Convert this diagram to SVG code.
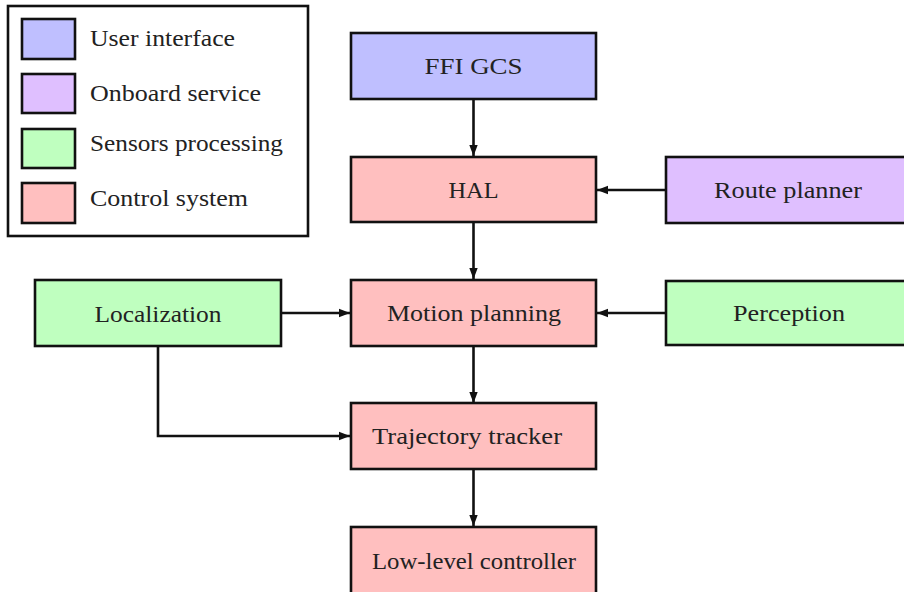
<svg xmlns="http://www.w3.org/2000/svg" width="904" height="592" viewBox="0 0 904 592">
<style>
.box{stroke:#111;stroke-width:2.6}
.ui{fill:#bfbfff}.ob{fill:#dfbfff}.sp{fill:#bfffbf}.cs{fill:#ffbfbf}
text{font-family:"Liberation Serif","Times New Roman",serif;font-size:24px;fill:#222}
.c{text-anchor:middle}
.conn{fill:none;stroke:#111;stroke-width:2.6}
</style>
<defs>
<marker id="ah" markerUnits="userSpaceOnUse" markerWidth="12" markerHeight="10" refX="11" refY="5" orient="auto">
<path d="M0,0.8 L11,5 L0,9.2 Z" fill="#111"/>
</marker>
</defs>
<rect width="904" height="592" fill="#fff"/>
<g id="legend">
<rect x="8" y="6" width="300" height="230" fill="#fff" stroke="#111" stroke-width="2.6"/>
<rect class="box ui" x="22" y="19" width="53" height="40"/>
<rect class="box ob" x="22" y="74" width="53" height="39"/>
<rect class="box sp" x="22" y="129" width="53" height="39"/>
<rect class="box cs" x="22" y="183" width="53" height="40"/>
<text x="90" y="46" textLength="145" lengthAdjust="spacingAndGlyphs">User interface</text>
<text x="90" y="101" textLength="171" lengthAdjust="spacingAndGlyphs">Onboard service</text>
<text x="90" y="151" textLength="193" lengthAdjust="spacingAndGlyphs">Sensors processing</text>
<text x="90" y="206" textLength="158" lengthAdjust="spacingAndGlyphs">Control system</text>
</g>
<g id="connectors">
<line class="conn" x1="473.5" y1="99" x2="473.5" y2="156" marker-end="url(#ah)"/>
<line class="conn" x1="666" y1="190" x2="597" y2="190" marker-end="url(#ah)"/>
<line class="conn" x1="473.5" y1="222" x2="473.5" y2="279" marker-end="url(#ah)"/>
<line class="conn" x1="281" y1="313" x2="350" y2="313" marker-end="url(#ah)"/>
<line class="conn" x1="666" y1="313" x2="597" y2="313" marker-end="url(#ah)"/>
<line class="conn" x1="473.5" y1="346" x2="473.5" y2="403" marker-end="url(#ah)"/>
<polyline class="conn" points="158,346 158,436 350,436" marker-end="url(#ah)"/>
<line class="conn" x1="473.5" y1="469" x2="473.5" y2="526" marker-end="url(#ah)"/>
</g>
<g id="ffi-gcs">
<rect class="box ui" x="351" y="33" width="245" height="66"/>
<text class="c" x="473.5" y="74" textLength="98" lengthAdjust="spacingAndGlyphs">FFI GCS</text>
</g>
<g id="hal">
<rect class="box cs" x="351" y="157" width="245" height="65"/>
<text class="c" x="473.5" y="197.5" textLength="50" lengthAdjust="spacingAndGlyphs">HAL</text>
</g>
<g id="route-planner">
<rect class="box ob" x="666" y="157" width="260" height="66"/>
<text class="c" x="788" y="197.5" textLength="148" lengthAdjust="spacingAndGlyphs">Route planner</text>
</g>
<g id="motion-planning">
<rect class="box cs" x="351" y="280" width="245" height="66"/>
<text class="c" x="474" y="320.5" textLength="174" lengthAdjust="spacingAndGlyphs">Motion planning</text>
</g>
<g id="localization">
<rect class="box sp" x="35" y="280" width="246" height="66"/>
<text class="c" x="158" y="321.5" textLength="127" lengthAdjust="spacingAndGlyphs">Localization</text>
</g>
<g id="perception">
<rect class="box sp" x="666" y="281" width="260" height="64"/>
<text class="c" x="789" y="320.5" textLength="112" lengthAdjust="spacingAndGlyphs">Perception</text>
</g>
<g id="trajectory-tracker">
<rect class="box cs" x="351" y="403" width="245" height="66"/>
<text class="c" x="467" y="443.5" textLength="190" lengthAdjust="spacingAndGlyphs">Trajectory tracker</text>
</g>
<g id="low-level-controller">
<rect class="box cs" x="351" y="527" width="245" height="80"/>
<text class="c" x="474" y="568.5" textLength="204" lengthAdjust="spacingAndGlyphs">Low-level controller</text>
</g>
</svg>
